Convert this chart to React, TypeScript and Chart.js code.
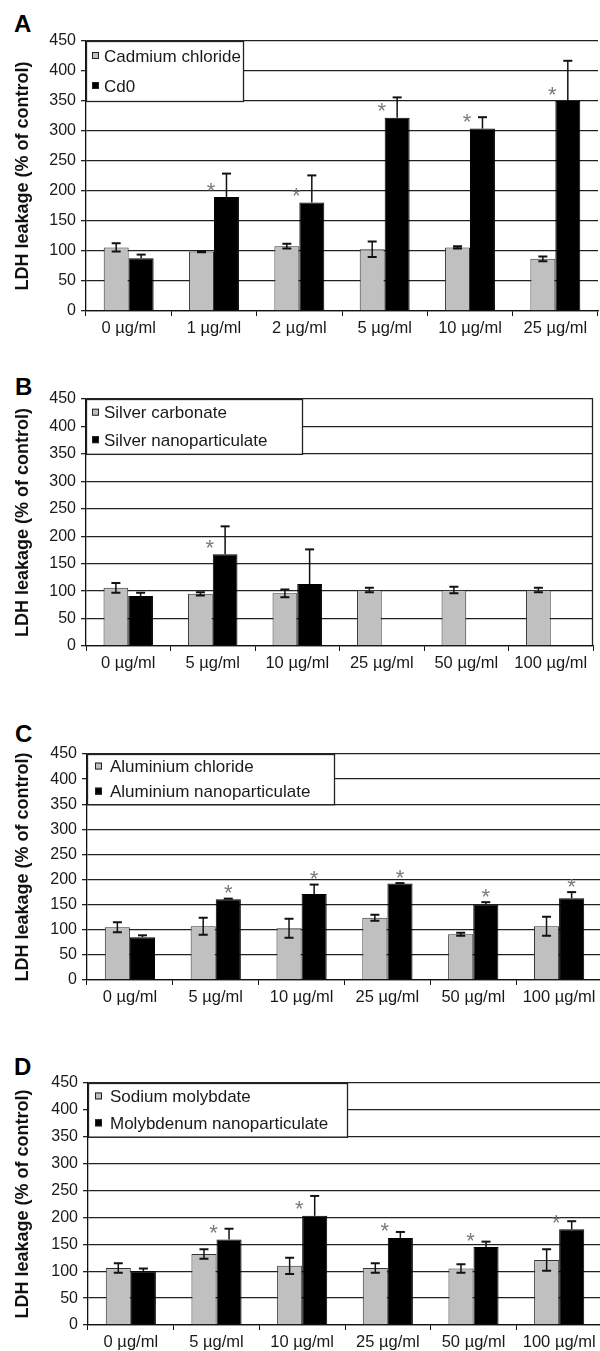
import React, { useEffect, useRef } from 'react';
import { Chart, registerables } from 'chart.js';

Chart.register(...registerables);

const FONT = '"Liberation Sans", Arial, Helvetica, sans-serif';

// ---------- Panel A ----------
const catsA = ['0 µg/ml', '1 µg/ml', '2 µg/ml', '5 µg/ml', '10 µg/ml', '25 µg/ml'];
const cdChloride = [106, 99, 108, 103, 106, 87];
const cdChlorideErr = [7, 1, 4, 13, 2, 4];
const cd0 = [88, 190, 181, 322, 304, 350];
const cd0Err = [6, 39, 45, 34, 19, 67];
const cd0Sig = [false, true, true, true, true, true];

// ---------- Panel B ----------
const catsB = ['0 µg/ml', '5 µg/ml', '10 µg/ml', '25 µg/ml', '50 µg/ml', '100 µg/ml'];
const agCarbonate = [106, 95, 96, 102, 102, 102];
const agCarbonateErr = [9, 3, 7, 4, 6, 4];
const agNano = [91, 167, 113, null, null, null];
const agNanoErr = [6, 51, 63, null, null, null];
const agNanoSig = [false, true, false, false, false, false];

// ---------- Panel C ----------
const catsC = ['0 µg/ml', '5 µg/ml', '10 µg/ml', '25 µg/ml', '50 µg/ml', '100 µg/ml'];
const alChloride = [105, 107, 103, 124, 91, 107];
const alChlorideErr = [10, 17, 19, 6, 3, 19];
const alNano = [85, 161, 171, 192, 150, 163];
const alNanoErr = [4, 1, 19, 1, 5, 12];
const alNanoSig = [false, true, true, true, true, true];

// ---------- Panel D ----------
const catsD = ['0 µg/ml', '5 µg/ml', '10 µg/ml', '25 µg/ml', '50 µg/ml', '100 µg/ml'];
const naMolybdate = [106, 132, 110, 106, 105, 121];
const naMolybdateErr = [9, 9, 15, 9, 8, 20];
const moNano = [100, 159, 203, 162, 145, 178];
const moNanoErr = [5, 20, 37, 11, 10, 15];
const moNanoSig = [false, true, true, true, true, true];

const yTitle = 'LDH leakage (% of control)';
const yMax = 450;
const yStep = 50;

type Series = { label: string; data: (number | null)[]; err: (number | null)[] };
type PanelCfg = {
  letter: string;
  labels: string[];
  salt: Series;
  nano: Series & { sig: boolean[] };
  top: number;
  height: number;
  width: number;
  padRight: number;
  axisWidth: number;
  legendWidth: number;
  legendMarkX: number;
  legendTextX: number;
  starAlign: 'left' | 'center';
  rightBorder: boolean;
  letterTop: number;
  letterLeft: number;
};

const PAD_TOP = 41;
const X_AXIS_H = 30;

const panels: PanelCfg[] = [
  {
    letter: 'A', labels: catsA,
    salt: { label: 'Cadmium chloride', data: cdChloride, err: cdChlorideErr },
    nano: { label: 'Cd0', data: cd0, err: cd0Err, sig: cd0Sig },
    top: 0, height: 341, width: 600, padRight: 2, axisWidth: 86,
    legendWidth: 157, legendMarkX: 6, legendTextX: 18, starAlign: 'left', rightBorder: false,
    letterTop: 12, letterLeft: 14,
  },
  {
    letter: 'B', labels: catsB,
    salt: { label: 'Silver carbonate', data: agCarbonate, err: agCarbonateErr },
    nano: { label: 'Silver nanoparticulate', data: agNano, err: agNanoErr, sig: agNanoSig },
    top: 358, height: 318, width: 600, padRight: 7, axisWidth: 86,
    legendWidth: 216, legendMarkX: 6, legendTextX: 18, starAlign: 'left', rightBorder: true,
    letterTop: 375, letterLeft: 15,
  },
  {
    letter: 'C', labels: catsC,
    salt: { label: 'Aluminium chloride', data: alChloride, err: alChlorideErr },
    nano: { label: 'Aluminium nanoparticulate', data: alNano, err: alNanoErr, sig: alNanoSig },
    top: 713, height: 297, width: 602, padRight: 0, axisWidth: 87,
    legendWidth: 247, legendMarkX: 8, legendTextX: 23, starAlign: 'center', rightBorder: false,
    letterTop: 722, letterLeft: 15,
  },
  {
    letter: 'D', labels: catsD,
    salt: { label: 'Sodium molybdate', data: naMolybdate, err: naMolybdateErr },
    nano: { label: 'Molybdenum nanoparticulate', data: moNano, err: moNanoErr, sig: moNanoSig },
    top: 1042, height: 313, width: 602, padRight: 0, axisWidth: 88,
    legendWidth: 259, legendMarkX: 7, legendTextX: 22, starAlign: 'left', rightBorder: false,
    letterTop: 1055, letterLeft: 14,
  },
];

const GRAY = '#c0c0c0';
const INK = '#111';
const GRID = '#222';

const decorPlugin = {
  id: 'decor',
  afterDatasetsDraw(chart: any, _args: any, opts: any) {
    const cfg: PanelCfg = opts.cfg;
    if (!cfg) return;
    const ctx = chart.ctx;
    const ys = chart.scales.y;
    const errs = [cfg.salt.err, cfg.nano.err];
    errs.forEach((errArr, di) => {
      const meta = chart.getDatasetMeta(di);
      const vals = chart.data.datasets[di].data;
      meta.data.forEach((bar: any, j: number) => {
        const v = vals[j];
        const e = errArr[j];
        if (v == null || e == null) return;
        const x = bar.x;
        const yt = ys.getPixelForValue(v + e);
        const yb = ys.getPixelForValue(v - e);
        const upperOnly = di === 1;
        ctx.save();
        ctx.strokeStyle = INK;
        ctx.lineWidth = 1.5;
        ctx.beginPath();
        ctx.moveTo(x, yt);
        ctx.lineTo(x, upperOnly ? bar.y : yb);
        ctx.stroke();
        ctx.lineWidth = 2;
        ctx.beginPath();
        ctx.moveTo(x - 4.5, yt);
        ctx.lineTo(x + 4.5, yt);
        if (!upperOnly) {
          ctx.moveTo(x - 4.5, yb);
          ctx.lineTo(x + 4.5, yb);
        }
        ctx.stroke();
        ctx.restore();
      });
    });
    // significance stars
    const nMeta = chart.getDatasetMeta(1);
    const nVals = chart.data.datasets[1].data;
    cfg.nano.sig.forEach((s, j) => {
      if (!s) return;
      const bar: any = nMeta.data[j];
      if (!bar) return;
      let x: number;
      let cy: number;
      if (cfg.starAlign === 'center') {
        const e = cfg.nano.err[j] ?? 0;
        x = bar.x;
        cy = ys.getPixelForValue((nVals[j] as number) + e) - 11;
      } else {
        x = bar.x - bar.width / 2 - 3;
        cy = bar.y - 12;
      }
      ctx.save();
      ctx.fillStyle = '#7a7a7a';
      ctx.font = `22px ${FONT}`;
      ctx.textAlign = 'center';
      ctx.textBaseline = 'alphabetic';
      ctx.fillText('*', x, cy + 12.5);
      ctx.restore();
    });
  },
  afterDraw(chart: any, _args: any, opts: any) {
    const cfg: PanelCfg = opts.cfg;
    if (!cfg) return;
    const ctx = chart.ctx;
    const ys = chart.scales.y;
    const area = chart.chartArea;
    const left = area.left;
    const top = ys.getPixelForValue(450);
    const bottom = ys.getPixelForValue(350);
    ctx.save();
    ctx.fillStyle = '#fff';
    ctx.fillRect(left, top, cfg.legendWidth, bottom - top);
    ctx.strokeStyle = GRID;
    ctx.lineWidth = 1.3;
    ctx.strokeRect(left + 0.5, top + 0.5, cfg.legendWidth, bottom - top);
    const rows = [
      { label: cfg.salt.label, fill: GRAY, y: ys.getPixelForValue(425) },
      { label: cfg.nano.label, fill: '#000', y: ys.getPixelForValue(375) },
    ];
    rows.forEach((r) => {
      const mx = left + cfg.legendMarkX;
      ctx.fillStyle = r.fill;
      ctx.fillRect(mx, r.y - 4, 7, 7);
      ctx.strokeStyle = '#222';
      ctx.lineWidth = 1;
      ctx.strokeRect(mx + 0.5, r.y - 3.5, 6, 6);
      ctx.fillStyle = '#1a1a1a';
      ctx.font = `17px ${FONT}`;
      ctx.textAlign = 'left';
      ctx.textBaseline = 'middle';
      ctx.fillText(r.label, left + cfg.legendTextX, r.y + 1);
    });
    if (cfg.rightBorder) {
      ctx.strokeStyle = GRID;
      ctx.lineWidth = 1.3;
      ctx.beginPath();
      ctx.moveTo(area.right - 0.5, area.top);
      ctx.lineTo(area.right - 0.5, area.bottom);
      ctx.stroke();
    }
    ctx.restore();
  },
};

function Panel({ cfg }: { cfg: PanelCfg }) {
  const ref = useRef<HTMLCanvasElement | null>(null);
  useEffect(() => {
    if (!ref.current) return;
    const chart = new Chart(ref.current, {
      type: 'bar',
      data: {
        labels: cfg.labels,
        datasets: [
          {
            label: cfg.salt.label,
            data: cfg.salt.data as any,
            backgroundColor: GRAY,
            borderColor: '#333',
            borderWidth: 1,
            categoryPercentage: 0.585,
            barPercentage: 1,
          },
          {
            label: cfg.nano.label,
            data: cfg.nano.data as any,
            backgroundColor: '#000',
            borderColor: '#000',
            borderWidth: 1,
            categoryPercentage: 0.585,
            barPercentage: 1,
          },
        ],
      },
      options: {
        animation: false,
        responsive: false,
        devicePixelRatio: 1,
        layout: { padding: { top: PAD_TOP, left: 0, right: cfg.padRight, bottom: 0 } },
        plugins: {
          legend: { display: false },
          tooltip: { enabled: false },
          decor: { cfg },
        } as any,
        scales: {
          x: {
            grid: { drawOnChartArea: false, drawTicks: true, tickLength: 5, color: INK, offset: true },
            border: { display: true, color: INK, width: 1.3 },
            ticks: { font: { family: FONT, size: 16.5 }, color: '#1a1a1a', padding: 3, maxRotation: 0, autoSkip: false },
            afterFit: (s: any) => { s.height = X_AXIS_H; },
          },
          y: {
            min: 0,
            max: yMax,
            ticks: { stepSize: yStep, font: { family: FONT, size: 16 }, color: '#1a1a1a', padding: 5 },
            grid: { color: GRID, lineWidth: 1.3, tickLength: 5, drawTicks: true },
            border: { display: true, color: INK, width: 1.3 },
            title: {
              display: true,
              text: yTitle,
              font: { family: FONT, size: 18, weight: 'bold' },
              color: '#111',
              padding: { top: 12, bottom: 0 },
            },
            afterFit: (s: any) => { s.width = cfg.axisWidth; },
          },
        },
      },
      plugins: [decorPlugin as any],
    });
    return () => chart.destroy();
  }, [cfg]);
  return (
    <>
      <div
        style={{
          position: 'absolute', top: cfg.letterTop, left: cfg.letterLeft,
          font: `bold 24px ${FONT}`, lineHeight: '24px', color: '#000',
        }}
      >
        {cfg.letter}
      </div>
      <canvas
        ref={ref}
        width={cfg.width}
        height={cfg.height}
        style={{ position: 'absolute', top: cfg.top, left: 0, width: cfg.width, height: cfg.height }}
      />
    </>
  );
}

export default function App() {
  return (
    <div
      style={{
        position: 'absolute', left: 0, top: 0, width: 600, height: 1351,
        overflow: 'hidden', background: '#fff',
      }}
    >
      {panels.map((p) => (
        <Panel key={p.letter} cfg={p} />
      ))}
    </div>
  );
}
